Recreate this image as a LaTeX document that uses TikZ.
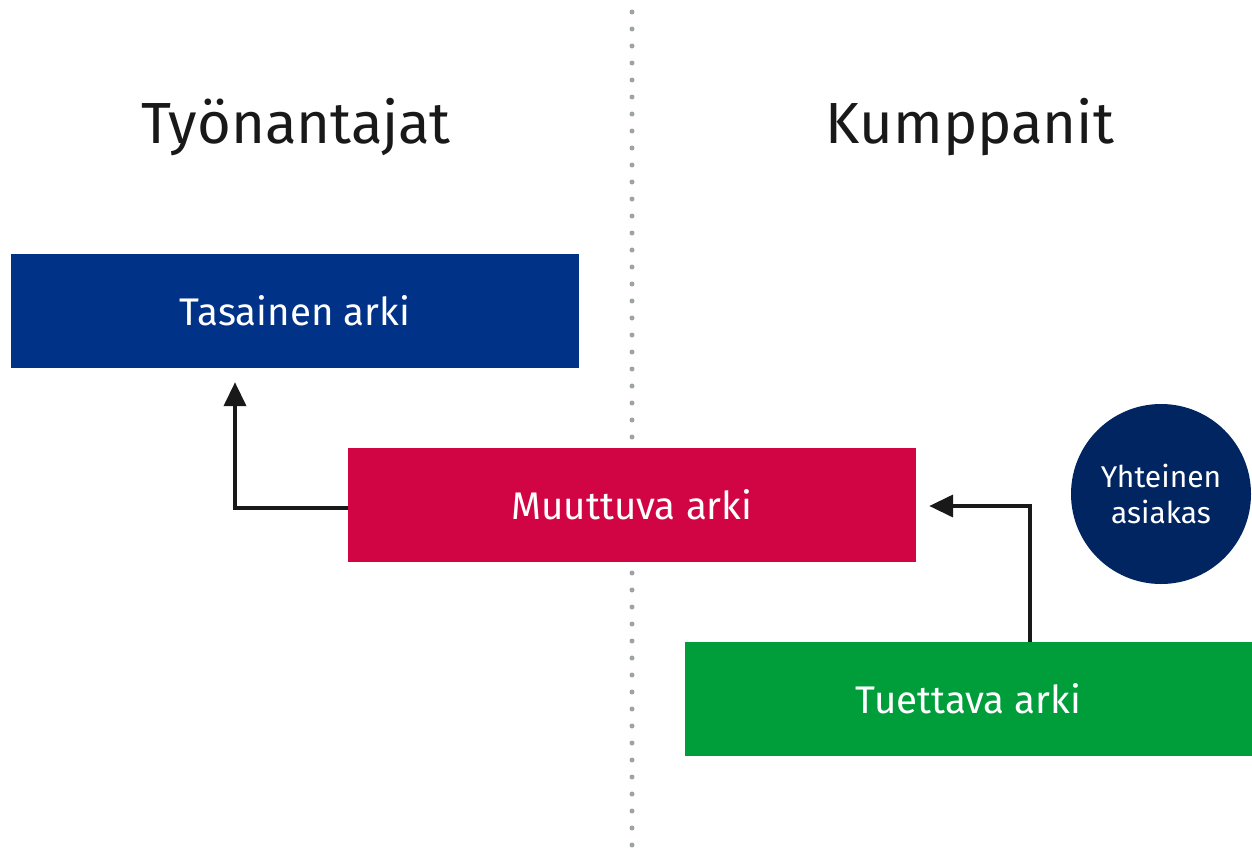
\documentclass[tikz,border=0pt]{standalone}
\usepackage{fontspec}
\setmainfont{Fira Sans}
\usetikzlibrary{arrows.meta, positioning}

\definecolor{flatblue}{RGB}{0,50,135}
\definecolor{changered}{RGB}{210,5,68}
\definecolor{supportgreen}{RGB}{0,158,58}
\definecolor{clientnavy}{RGB}{0,37,97}
\definecolor{dotgrey}{RGB}{158,163,166}

\tikzset{
  arkibox/.style={rectangle, minimum width=568pt, minimum height=114pt,
    inner sep=0pt, text=white, font=\fontsize{38.5}{42}\selectfont},
  heading/.style={text=black!90, font=\fontsize{58}{64}\selectfont},
  clientdot/.style={circle, fill=clientnavy, minimum size=180pt, inner sep=0pt,
    text=white, align=center, font=\fontsize{30}{36}\selectfont},
  flowline/.style={line width=4pt, black!90, -{Triangle[length=24pt,width=22pt]}},
  divider/.style={line width=5pt, dotgrey, line cap=round, dash pattern=on 0pt off 17pt}
}

\begin{document}
\begin{tikzpicture}[x=1pt, y=-1pt]
    \useasboundingbox (0,0) rectangle (1252,854);

    % dotted divider
    \coordinate (divtop) at (632,12);
    \coordinate (divbottom) at (632,852);
    \draw[divider] (divtop) -- (divbottom);

    % headings
    \node[heading] (employers) at (296,127) {Työnantajat};
    \node[heading] (partners) at (970,127) {Kumppanit};

    % boxes
    \node[arkibox, fill=flatblue] (flat) at (295,311) {Tasainen arki};
    \node[arkibox, fill=changered] (changing) at (632,505) {Muuttuva arki};
    \node[arkibox, fill=supportgreen] (supported) at (968.5,699) {Tuettava arki};
    \node[clientdot] (client) at (1161,494) {Yhteinen\\asiakas};

    % arrows
    \coordinate (upend) at ([xshift=-60pt, yshift=-14pt]flat.south);
    \coordinate (leftend) at ([xshift=13pt, yshift=-1pt]changing.east);
    \draw[flowline] ([yshift=-3pt]changing.west) -| (upend);
    \draw[flowline] ([xshift=61pt]supported.north) |- (leftend);
  \end{tikzpicture}
\end{document}
